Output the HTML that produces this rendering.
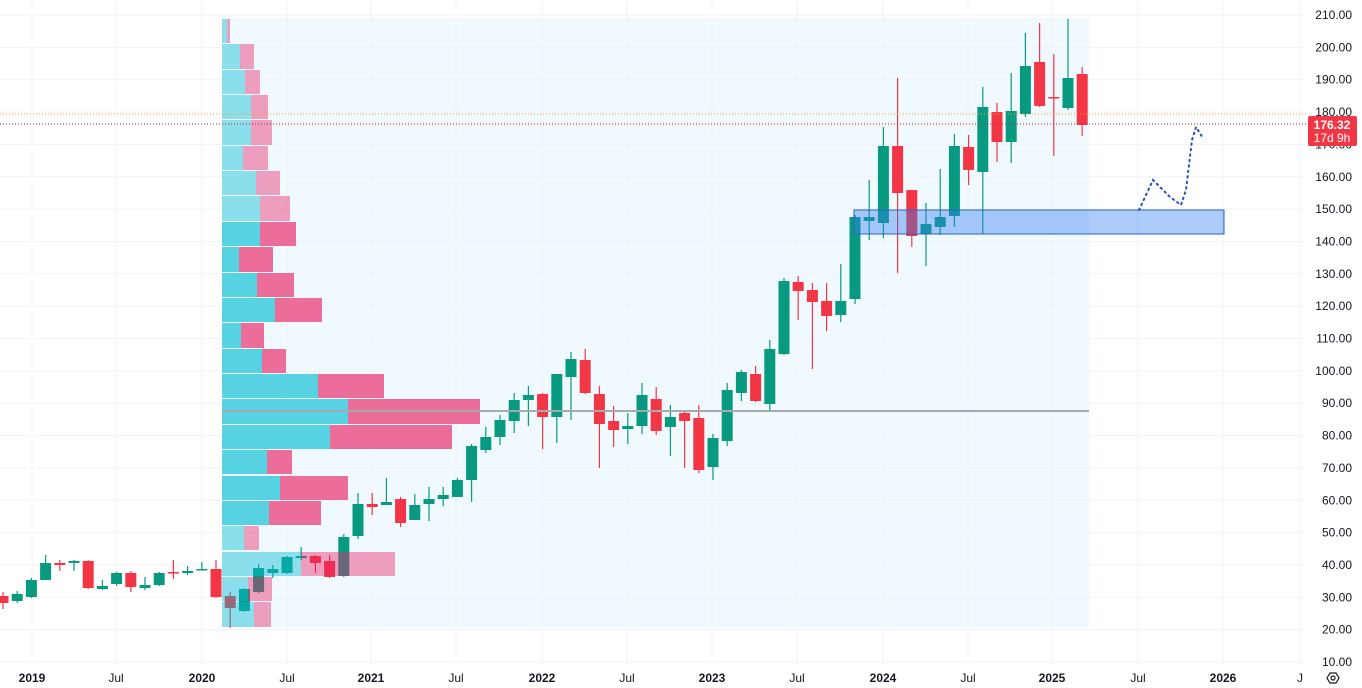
<!DOCTYPE html>
<html><head><meta charset="utf-8"><style>
html,body{margin:0;padding:0;background:#fff;}
svg{display:block;font-family:"Liberation Sans",sans-serif;}
</style></head><body>
<svg id="s" width="1362" height="688" xmlns="http://www.w3.org/2000/svg">
<rect x="0" y="0" width="1362" height="688" fill="#fff"/>
<rect x="222" y="18" width="867" height="609" fill="#f0f9fd"/>
<g id="grid"></g>
<g id="candles"></g>
<g id="prof"></g>
<line x1="222" y1="411" x2="1089" y2="411" stroke="#a7a9ad" stroke-width="2"/>
<rect x="854" y="210" width="370" height="24" fill="#2f7ff0" fill-opacity="0.4" stroke="#2d5fc9" stroke-width="1"/>
<line x1="0" y1="114" x2="1308" y2="114" stroke="#f7a21b" stroke-width="1" stroke-dasharray="1,2"/>
<line x1="0" y1="124" x2="1308" y2="124" stroke="#b22833" stroke-width="1" stroke-dasharray="1,2"/>
<polyline points="1139,210 1153,180 1170,197 1181,205 1186,190 1192,140 1196,127 1203,138" fill="none" stroke="#2a52be" stroke-width="2" stroke-dasharray="1.5,4" stroke-linecap="round"/>
<g id="axis" font-size="12" fill="#131722"></g>
<rect x="1308" y="116" width="49" height="30" rx="2" fill="#f23645"/>
<text x="1332" y="129" font-size="12" fill="#fff" text-anchor="middle" font-weight="bold">176.32</text>
<text x="1332" y="142" font-size="12" fill="#fff" text-anchor="middle">17d 9h</text>
<polygon points="1327,678 1330,673 1336,673 1339,678 1336,683 1330,683" fill="none" stroke="#131722" stroke-width="1.2"/>
<circle cx="1333" cy="678" r="2" fill="none" stroke="#131722" stroke-width="1.2"/>
</svg>
<script>
var NS="http://www.w3.org/2000/svg";
function el(p,t,a,txt){var e=document.createElementNS(NS,t);for(var k in a)e.setAttribute(k,a[k]);if(txt!==undefined)e.textContent=txt;document.getElementById(p).appendChild(e);return e;}
function y(p){return 15+(210-p)*3.235;}
// grid
for(var p=10;p<=210;p+=10){el("grid","line",{x1:0,x2:1305,y1:y(p),y2:y(p),stroke:"#f0f3fa","stroke-width":1});
 el("axis","text",{x:1352,y:y(p)+4,"text-anchor":"end"},p.toFixed(2));}
var xl=[[32,"2019",1],[116,"Jul"],[202,"2020",1],[287,"Jul"],[371,"2021",1],[456,"Jul"],[542,"2022",1],[627,"Jul"],[712,"2023",1],[797,"Jul"],[883,"2024",1],[968,"Jul"],[1052,"2025",1],[1138,"Jul"],[1223,"2026",1],[1300,"J"]];
xl.forEach(function(a){el("grid","line",{x1:a[0],x2:a[0],y1:0,y2:665,stroke:"#f0f3fa","stroke-width":1});
 el("axis","text",{x:a[0],y:682,"text-anchor":"middle","font-weight":a[2]?"bold":"normal"},a[1]);});
var C=[[596,603,592,609,0],[594,601,591,603,1],[580,597,578,598,1],[563,580,555,580,1],[563,565,560,571,0],[561,563,560,571,1],[561,588,560,589,0],[586,589,580,590,1],[573,584,572,586,1],[573,587,571,592,0],[585,588,577,590,1],[573,585,572,586,1],[572,573,560,579,0],[571,573,566,575,1],[569,570,562,570,1],[569,597,560,598,0],[596,608,592,628,0],[589,611,588,612,1],[568,592,564,593,1],[569,573,565,578,1],[557,573,556,574,1],[556,558,547,560,1],[556,563,555,573,0],[561,577,555,578,0],[537,576,534,577,1],[504,536,493,539,1],[504,507,493,515,0],[502,505,478,505,1],[499,523,497,527,0],[505,520,494,520,1],[499,504,487,521,1],[495,499,487,506,1],[480,497,478,497,1],[446,480,444,502,1],[437,450,427,453,1],[420,437,415,445,1],[400,421,393,433,1],[395,400,386,426,1],[394,417,393,449,0],[374,417,374,443,1],[359,377,352,420,1],[360,393,349,394,0],[394,424,386,468,0],[421,430,406,447,0],[426,429,413,444,1],[395,426,383,434,1],[399,431,387,435,0],[417,427,405,456,1],[413,421,410,468,0],[418,470,405,473,0],[438,467,434,480,1],[390,441,383,446,1],[372,393,370,401,1],[374,401,366,402,0],[349,404,340,410,1],[281,354,278,355,1],[282,291,276,320,0],[290,302,283,369,0],[301,316,283,331,0],[301,315,264,322,1],[217,299,215,304,1],[217,221,180,240,1],[146,223,127,238,1],[146,193,78,273,0],[190,236,190,247,0],[224,234,203,266,1],[217,227,169,235,1],[146,216,134,227,1],[147,170,135,185,0],[107,172,87,234,1],[112,142,103,162,0],[111,142,73,163,1],[66,114,33,117,1],[62,106,23,107,0],[97,98,54,156,0],[78,108,19,110,1],[74,125,67,136,0]];
C.forEach(function(c,i){var x=3+i*14.2,col=c[4]?"#089981":"#f23645";
 el("candles","line",{x1:x,x2:x,y1:c[2],y2:c[3],stroke:col,"stroke-width":1.2});
 el("candles","rect",{x:x-5.5,y:c[0],width:11,height:Math.max(1.5,c[1]-c[0]),fill:col});});
var R=[[19,43,227,230,0],[44,69,240,254,0],[70,94,245,260,0],[95,119,251,268,0],[120,145,251,272,0],[146,170,243,268,0],[171,195,256,280,0],[196,221,260,290,0],[222,246,260,296,1],[247,272,239,273,1],[273,297,257,294,1],[298,322,275,322,1],[323,348,241,264,1],[349,373,262,286,1],[374,398,318,384,1],[399,424,348,480,1],[425,449,330,452,1],[450,474,267,292,1],[476,500,280,348,1],[501,525,269,321,1],[526,550,244,259,0],[552,576,301,395,0],[577,601,248,272,0],[602,627,254,271,0]];
R.forEach(function(r){var o=r[4]?0.64:0.42;
 el("prof","rect",{x:222,y:r[0],width:r[2]-222,height:r[1]-r[0],fill:"#00bcd4","fill-opacity":o});
 el("prof","rect",{x:r[2],y:r[0],width:r[3]-r[2],height:r[1]-r[0],fill:"#e91e63","fill-opacity":o});});
</script>
</body></html>
